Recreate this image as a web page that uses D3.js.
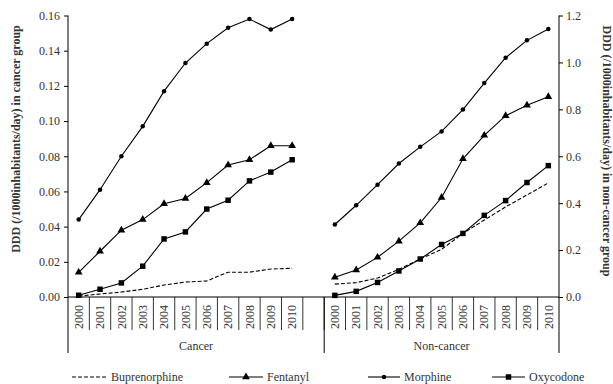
<!DOCTYPE html>
<html>

<head>
    <script src="https://d3js.org/d3.v7.min.js"></script>
    <style>
        body { margin: 0; background: white; }
        text { font-family: "Liberation Serif", "Times New Roman", serif; fill: #333; }
    </style>
</head>

<body>
    <div id="chart"></div>

    <script>
        // data
        var years = ["2000", "2001", "2002", "2003", "2004", "2005", "2006", "2007", "2008", "2009", "2010"];
        var groups = ["Cancer", "Non-cancer"];

        // cancer group (left axis)
        var cancerBuprenorphine = [0.0005, 0.0017, 0.0028, 0.0044, 0.0068, 0.0085, 0.0091, 0.0141, 0.0141, 0.0159, 0.0163];
        var cancerFentanyl = [0.014, 0.026, 0.038, 0.044, 0.053, 0.056, 0.065, 0.075, 0.078, 0.086, 0.086];
        var cancerMorphine = [0.044, 0.061, 0.080, 0.097, 0.117, 0.133, 0.144, 0.153, 0.158, 0.152, 0.158];
        var cancerOxycodone = [0.001, 0.0044, 0.008, 0.0175, 0.033, 0.037, 0.050, 0.055, 0.066, 0.071, 0.078];

        // non-cancer group (right axis)
        var nonBuprenorphine = [0.055, 0.061, 0.081, 0.118, 0.162, 0.203, 0.271, 0.328, 0.384, 0.435, 0.486];
        var nonFentanyl = [0.084, 0.115, 0.169, 0.238, 0.316, 0.424, 0.589, 0.689, 0.773, 0.817, 0.854];
        var nonMorphine = [0.309, 0.391, 0.479, 0.569, 0.640, 0.706, 0.799, 0.912, 1.020, 1.094, 1.142];
        var nonOxycodone = [0.007, 0.024, 0.062, 0.111, 0.162, 0.224, 0.271, 0.348, 0.411, 0.488, 0.560];

        var leftTicks = [0, 0.02, 0.04, 0.06, 0.08, 0.10, 0.12, 0.14, 0.16];
        var rightTicks = [0, 0.2, 0.4, 0.6, 0.8, 1.0, 1.2];

        var drugs = ["Buprenorphine", "Fentanyl", "Morphine", "Oxycodone"];
        var symbols = { Buprenorphine: null, Fentanyl: d3.symbolTriangle, Morphine: d3.symbolCircle, Oxycodone: d3.symbolSquare };
        var symbolSize = { Fentanyl: 26, Morphine: 16, Oxycodone: 30 };

        var series = [
            { drug: "Buprenorphine", group: "C", values: cancerBuprenorphine },
            { drug: "Fentanyl", group: "C", values: cancerFentanyl },
            { drug: "Morphine", group: "C", values: cancerMorphine },
            { drug: "Oxycodone", group: "C", values: cancerOxycodone },
            { drug: "Buprenorphine", group: "N", values: nonBuprenorphine },
            { drug: "Fentanyl", group: "N", values: nonFentanyl },
            { drug: "Morphine", group: "N", values: nonMorphine },
            { drug: "Oxycodone", group: "N", values: nonOxycodone }
        ];

        var margin = { top: 15.5, right: 54, bottom: 87, left: 68 },
            W = 613, H = 384,
            width = W - margin.left - margin.right,
            height = H - margin.top - margin.bottom;

        var svg = d3.select("#chart").append("svg")
            .attr("width", W)
            .attr("height", H);
        var g = svg.append("g")
            .attr("transform", "translate(" + margin.left + "," + margin.top + ")");

        // 11 cancer slots + 1 empty + 11 non-cancer slots
        var slots = years.map(y => "C" + y).concat(["gap"]).concat(years.map(y => "N" + y));
        var x = d3.scaleBand().domain(slots).range([0, width]).padding(0);
        var bw = x.bandwidth();

        var yL = d3.scaleLinear().domain([0, 0.16]).range([height, 0]);
        var yR = d3.scaleLinear().domain([0, 1.2]).range([height, 0]);

        // left axis
        var axL = g.append("g")
            .call(d3.axisLeft(yL).tickValues(leftTicks).tickFormat(d3.format(".2f")).tickSize(4).tickSizeOuter(0));
        axL.selectAll("text").style("font-size", "12px").attr("x", -8);
        axL.select(".domain").remove();

        // right axis
        var axR = g.append("g")
            .attr("transform", "translate(" + width + ",0)")
            .call(d3.axisRight(yR).tickValues(rightTicks).tickFormat(d3.format(".1f")).tickSize(4).tickSizeOuter(0));
        axR.selectAll("text").style("font-size", "12px").attr("x", 7);
        axR.select(".domain").remove();

        var lineBottom = height + 56;
        var tickBottom = height + 33;

        // vertical axis lines, extending down past the category rows
        g.append("line").attr("x1", 0).attr("x2", 0).attr("y1", 0).attr("y2", lineBottom).attr("stroke", "black");
        g.append("line").attr("x1", width).attr("x2", width).attr("y1", 0).attr("y2", lineBottom).attr("stroke", "black");
        // group divider
        var divX = x("N2000");
        g.append("line").attr("x1", divX).attr("x2", divX).attr("y1", height).attr("y2", lineBottom).attr("stroke", "black");

        // category boundary ticks
        g.selectAll(".bnd").data(slots.slice(1))
            .enter().append("line")
            .attr("x1", d => x(d)).attr("x2", d => x(d))
            .attr("y1", height).attr("y2", tickBottom)
            .attr("stroke", "black").attr("stroke-width", 0.8);

        // x baseline
        g.append("line").attr("x1", 0).attr("x2", width).attr("y1", height).attr("y2", height).attr("stroke", "black").attr("stroke-width", 1.2);

        // year labels
        g.selectAll(".yr").data(slots.filter(s => s !== "gap"))
            .enter().append("text")
            .attr("transform", d => "translate(" + (x(d) + bw / 2) + "," + (height + 8) + ") rotate(-90)")
            .attr("text-anchor", "end")
            .attr("dy", "0.35em")
            .style("font-size", "12px")
            .text(d => d.slice(1));

        // group labels
        g.append("text").attr("x", divX / 2).attr("y", height + 53).attr("text-anchor", "middle")
            .style("font-size", "12px").text(groups[0]);
        g.append("text").attr("x", (divX + width) / 2).attr("y", height + 53).attr("text-anchor", "middle")
            .style("font-size", "12px").text(groups[1]);

        // lines and markers
        var line = d3.line();
        series.forEach(function (s) {
            var ys = s.group === "C" ? yL : yR;
            var pts = s.values.map((v, i) => [x(s.group + years[i]) + bw / 2, ys(v)]);
            var path = g.append("path")
                .attr("d", line(pts))
                .attr("fill", "none")
                .attr("stroke", "black")
                .attr("stroke-width", 1.1);
            if (s.drug === "Buprenorphine") {
                path.attr("stroke-dasharray", "4,2");
            } else {
                g.selectAll(null).data(pts).enter().append("path")
                    .attr("transform", p => "translate(" + p[0] + "," + p[1] + ")")
                    .attr("d", d3.symbol().type(symbols[s.drug]).size(symbolSize[s.drug]))
                    .attr("fill", "black");
            }
        });

        // axis titles
        svg.append("text")
            .attr("transform", "translate(16," + 139 + ") rotate(-90)")
            .attr("text-anchor", "middle")
            .attr("dy", "0.35em")
            .style("font-size", "12px").style("font-weight", "bold")
            .text("DDD (/1000inhabitants/day) in cancer group");
        svg.append("text")
            .attr("transform", "translate(607," + 151 + ") rotate(90)")
            .attr("text-anchor", "middle")
            .attr("dy", "0.35em")
            .style("font-size", "12px").style("font-weight", "bold")
            .text("DDD (/1000inhabitants/day) in non-cancer group");

        // legend
        var legendItems = [
            { drug: drugs[0], x0: 72, x1: 107 },
            { drug: drugs[1], x0: 229, x1: 263 },
            { drug: drugs[2], x0: 368, x1: 400 },
            { drug: drugs[3], x0: 492, x1: 525 }
        ];
        var legY = 377;
        var leg = svg.append("g");
        legendItems.forEach(function (d) {
            var ln = leg.append("line").attr("x1", d.x0).attr("x2", d.x1).attr("y1", legY).attr("y2", legY)
                .attr("stroke", "black").attr("stroke-width", 1.1);
            if (d.drug === "Buprenorphine") {
                ln.attr("stroke-dasharray", "4,2");
            } else {
                leg.append("path")
                    .attr("transform", "translate(" + ((d.x0 + d.x1) / 2) + "," + legY + ")")
                    .attr("d", d3.symbol().type(symbols[d.drug]).size(symbolSize[d.drug]))
                    .attr("fill", "black");
            }
            leg.append("text").attr("x", d.x1 + 4).attr("y", legY).attr("dy", "0.35em")
                .style("font-size", "12px").text(d.drug);
        });
    </script>
</body>

</html>
